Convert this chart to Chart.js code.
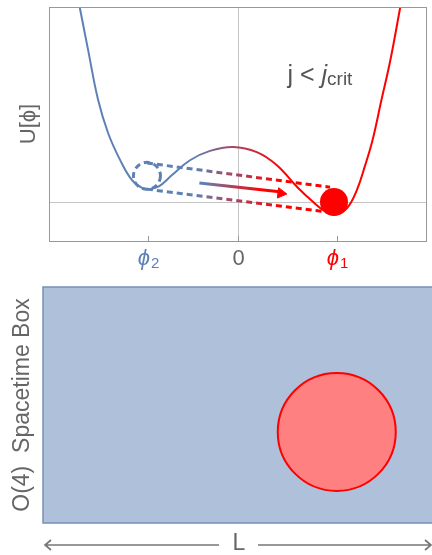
<!DOCTYPE html>
<html>
<head>
<meta charset="utf-8">
<script src="https://cdn.jsdelivr.net/npm/chart.js@4.4.1/dist/chart.umd.min.js"></script>
<style>
  body { margin: 0; background: #fff; }
  .panel { position: relative; width: 432px; }
  #potential-wrap { height: 270px; }
  #box-wrap { height: 285px; }
</style>
</head>
<body>
<div class="panel" id="potential-wrap"><canvas id="potential"></canvas></div>
<div class="panel" id="box-wrap"><canvas id="box"></canvas></div>
<script>
// potential U[phi]
const phi = [-1.60, -1.515, -1.414, -1.313, -1.192, -1.071, -0.97, -0.90, -0.80, -0.667, -0.485, -0.283, -0.05, 0.19, 0.39, 0.60, 0.76, 0.87, 0.98, 1.10, 1.20, 1.28, 1.36, 1.45, 1.54, 1.64];
const U   = [5.0, 3.9, 2.62, 1.77, 1.08, 0.56, 0.36, 0.33, 0.40, 0.69, 1.07, 1.31, 1.41, 1.28, 0.95, 0.38, 0.0, -0.22, -0.32, -0.16, 0.3, 0.9, 1.59, 2.62, 3.64, 5.0];

const phiTicks = [-0.91, 0, 1];
const phiTickNames = ['ϕ', '0', 'ϕ'];
const phiTickSubs = ['2', '', '1'];

// dashed false-vacuum bubble, the ball, the tracks between them and the arrow
const bubbleCentre = { x: -0.92, y: 0.67 };
const ball = [{ x: 0.97, y: 0 }];
const upperTrack = [{ x: -0.92, y: 1.0 }, { x: 0.93, y: 0.38 }];
const lowerTrack = [{ x: -0.92, y: 0.33 }, { x: 0.91, y: -0.26 }];
const rollArrow = [{ x: -0.39, y: 0.49 }, { x: 0.42, y: 0.26 }];
const arrowTip = [{ x: 0.434, y: 0.225 }];
const labelAt = { x: 0.5, y: 3.05 };

// O(4) spacetime box
const boxX = [0, 1.65];
const boxY = [0, 1];
const bounce = [{ x: 1.246, y: 0.386 }];

const blue = 'rgb(94,129,181)';
const red = 'rgb(255,0,0)';
const grey = '#666';
const font = '"Liberation Sans", "DejaVu Sans", Arial, sans-serif';

function blueToRed(chart, from, to) {
  const { ctx, chartArea, scales } = chart;
  if (!chartArea) return blue;
  const x0 = scales.x.getPixelForValue(from);
  const x1 = scales.x.getPixelForValue(to);
  const g = ctx.createLinearGradient(x0, 0, x1, 0);
  g.addColorStop(0, blue);
  g.addColorStop(1, red);
  return g;
}

const potentialDecor = {
  id: 'potentialDecor',
  afterDatasetsDraw(chart) {
    const { ctx, scales: { x, y } } = chart;
    // dashed circle round the left minimum
    ctx.save();
    ctx.strokeStyle = blue;
    ctx.lineWidth = 3;
    ctx.setLineDash([6, 4]);
    ctx.beginPath();
    ctx.arc(x.getPixelForValue(bubbleCentre.x), y.getPixelForValue(bubbleCentre.y), 13.5, 0, Math.PI * 2);
    ctx.stroke();
    ctx.restore();
  },
  afterDraw(chart) {
    const { ctx, chartArea: a, scales: { x, y } } = chart;
    ctx.save();
    // frame
    ctx.strokeStyle = '#999';
    ctx.lineWidth = 1;
    ctx.strokeRect(a.left + 0.5, a.top + 0.5, a.right - a.left - 1, a.bottom - a.top);
    // ticks + labels
    const colors = [blue, grey, red];
    phiTicks.forEach((v, i) => {
      const px = Math.round(x.getPixelForValue(v)) + 0.5;
      ctx.beginPath();
      ctx.moveTo(px, a.bottom);
      ctx.lineTo(px, a.bottom - 5);
      ctx.stroke();

      const mainFont = (phiTickSubs[i] ? 'italic ' : '') + '22px ' + font;
      const subFont = '15px ' + font;
      ctx.font = mainFont;
      const w1 = ctx.measureText(phiTickNames[i]).width;
      ctx.font = subFont;
      const w2 = phiTickSubs[i] ? ctx.measureText(phiTickSubs[i]).width + 1 : 0;
      let left = px - (w1 + w2) / 2;
      ctx.fillStyle = colors[i];
      ctx.textBaseline = 'alphabetic';
      ctx.textAlign = 'left';
      ctx.font = mainFont;
      ctx.fillText(phiTickNames[i], left, a.bottom + 24);
      if (phiTickSubs[i]) {
        ctx.font = subFont;
        ctx.fillText(phiTickSubs[i], left + w1 + 1, a.bottom + 27);
      }
    });
    // j < j_crit
    let lx = x.getPixelForValue(labelAt.x);
    const ly = y.getPixelForValue(labelAt.y);
    ctx.fillStyle = '#555';
    ctx.font = '25px ' + font;
    ctx.fillText('j < ', lx, ly);
    lx += ctx.measureText('j < ').width;
    ctx.font = 'italic 25px ' + font;
    ctx.fillText('j', lx, ly);
    lx += ctx.measureText('j').width;
    ctx.font = '19px ' + font;
    ctx.fillText('crit', lx, ly + 2);
    ctx.restore();
  }
};

new Chart(document.getElementById('potential'), {
  type: 'line',
  data: {
    datasets: [
      {
        data: ball,
        showLine: false,
        pointRadius: 14,
        pointBackgroundColor: red,
        pointBorderWidth: 0,
        order: 0
      },
      {
        data: arrowTip,
        showLine: false,
        pointStyle: 'triangle',
        pointRadius: 6,
        pointRotation: 97,
        pointBackgroundColor: red,
        pointBorderColor: red,
        pointBorderWidth: 1,
        order: 1
      },
      {
        data: rollArrow,
        borderColor: (c) => blueToRed(c.chart, -0.35, 0.25),
        borderWidth: 3,
        pointRadius: 0,
        order: 2
      },
      {
        data: upperTrack,
        borderColor: (c) => blueToRed(c.chart, -0.45, 0.45),
        borderWidth: 3,
        borderDash: [6, 4],
        pointRadius: 0,
        order: 3
      },
      {
        data: lowerTrack,
        borderColor: (c) => blueToRed(c.chart, -0.45, 0.45),
        borderWidth: 3,
        borderDash: [6, 4],
        pointRadius: 0,
        order: 3
      },
      {
        data: phi.map((p, i) => ({ x: p, y: U[i] })),
        borderColor: (c) => blueToRed(c.chart, -0.45, 0.45),
        borderWidth: 2,
        pointRadius: 0,
        tension: 0.4,
        order: 10
      }
    ]
  },
  options: {
    responsive: true,
    maintainAspectRatio: false,
    animation: false,
    devicePixelRatio: 1,
    layout: { autoPadding: false, padding: { top: 7, right: 5, left: 0, bottom: 0 } },
    plugins: { legend: { display: false }, tooltip: { enabled: false } },
    scales: {
      x: {
        type: 'linear',
        min: -1.91,
        max: 1.91,
        afterBuildTicks: (s) => { s.ticks = phiTicks.map((v) => ({ value: v })); },
        afterFit: (s) => { s.height = 29; },
        ticks: { display: false },
        border: { display: false },
        grid: {
          drawTicks: false,
          color: (c) => (c.tick && c.tick.value === 0 ? '#c4c4c4' : 'rgba(0,0,0,0)')
        }
      },
      y: {
        type: 'linear',
        min: -1,
        max: 5,
        afterBuildTicks: (s) => { s.ticks = [{ value: 0 }]; },
        afterFit: (s) => { s.width = 49; },
        ticks: { display: false },
        border: { display: false },
        grid: { drawTicks: false, color: '#c4c4c4' },
        title: {
          display: true,
          text: 'U[ϕ]',
          color: grey,
          font: { family: font, size: 22 },
          padding: { top: 16, bottom: 0 }
        }
      }
    }
  },
  plugins: [potentialDecor]
});

const boxDecor = {
  id: 'boxDecor',
  beforeDatasetsDraw(chart) {
    const { ctx, chartArea: a } = chart;
    ctx.save();
    ctx.fillStyle = 'rgb(175,192,218)';
    ctx.fillRect(a.left, a.top, a.right - a.left, a.bottom - a.top);
    ctx.strokeStyle = 'rgb(120,142,182)';
    ctx.lineWidth = 1.5;
    ctx.beginPath();
    ctx.moveTo(a.right + 2, a.top);
    ctx.lineTo(a.left, a.top);
    ctx.lineTo(a.left, a.bottom);
    ctx.lineTo(a.right + 2, a.bottom);
    ctx.stroke();
    ctx.restore();
  },
  afterDraw(chart) {
    const { ctx, chartArea: a } = chart;
    const mid = (a.left + a.right) / 2 + 1.5;
    const yy = a.bottom + 22;
    ctx.save();
    ctx.fillStyle = grey;
    ctx.font = '23px ' + font;
    ctx.textAlign = 'center';
    ctx.textBaseline = 'middle';
    ctx.fillText('L', mid, yy - 1);
    ctx.strokeStyle = '#777';
    ctx.lineWidth = 1.7;
    const l0 = a.left + 2, l1 = mid - 20, r0 = mid + 19, r1 = a.right - 1;
    ctx.beginPath();
    ctx.moveTo(l0, yy); ctx.lineTo(l1, yy);
    ctx.moveTo(l0 + 6, yy - 5); ctx.lineTo(l0, yy); ctx.lineTo(l0 + 6, yy + 5);
    ctx.moveTo(r0, yy); ctx.lineTo(r1, yy);
    ctx.moveTo(r1 - 6, yy - 5); ctx.lineTo(r1, yy); ctx.lineTo(r1 - 6, yy + 5);
    ctx.stroke();
    ctx.restore();
  }
};

new Chart(document.getElementById('box'), {
  type: 'bubble',
  data: {
    datasets: [{
      data: bounce,
      radius: 59,
      backgroundColor: 'rgb(255,128,128)',
      borderColor: red,
      borderWidth: 2
    }]
  },
  options: {
    responsive: true,
    maintainAspectRatio: false,
    animation: false,
    devicePixelRatio: 1,
    layout: { autoPadding: false, padding: { top: 17, right: 0, left: 0, bottom: 0 } },
    plugins: { legend: { display: false }, tooltip: { enabled: false } },
    scales: {
      x: {
        type: 'linear',
        min: boxX[0],
        max: boxX[1],
        afterFit: (s) => { s.height = 32; },
        ticks: { display: false },
        border: { display: false },
        grid: { display: false }
      },
      y: {
        type: 'linear',
        min: boxY[0],
        max: boxY[1],
        afterFit: (s) => { s.width = 43; },
        ticks: { display: false },
        border: { display: false },
        grid: { display: false },
        title: {
          display: true,
          text: 'O(4)  Spacetime Box',
          color: grey,
          font: { family: font, size: 23 },
          padding: { top: 9, bottom: 0 }
        }
      }
    }
  },
  plugins: [boxDecor]
});
</script>
</body>
</html>
